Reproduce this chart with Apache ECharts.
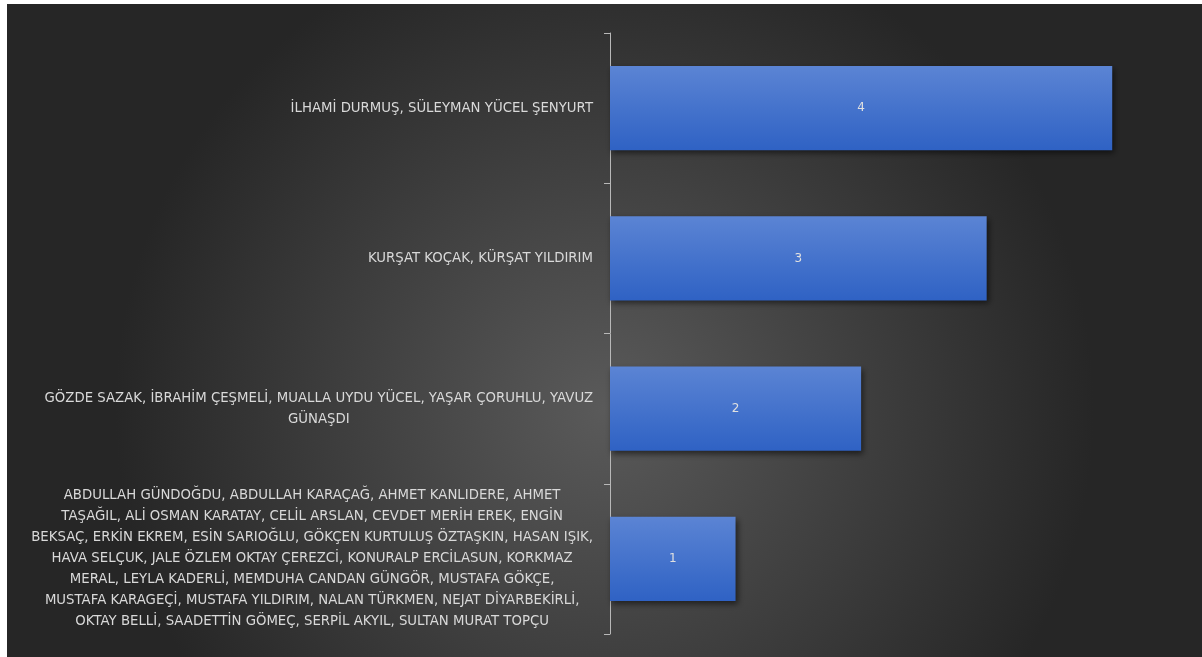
<!DOCTYPE html>
<html>
<head>
<meta charset="utf-8">
<script src="https://cdn.jsdelivr.net/npm/echarts@6/dist/echarts.min.js"></script>
<style>
html,body{margin:0;padding:0;background:#fff;}
#chart{position:absolute;left:7px;top:4px;width:1195px;height:653px;}
</style>
</head>
<body>
<div id="chart"></div>
<script>
const categories = [
  "İLHAMİ DURMUŞ, SÜLEYMAN YÜCEL ŞENYURT",
  "KURŞAT KOÇAK, KÜRŞAT YILDIRIM",
  "GÖZDE SAZAK, İBRAHİM ÇEŞMELİ, MUALLA UYDU YÜCEL, YAŞAR ÇORUHLU, YAVUZ\nGÜNAŞDI",
  "ABDULLAH GÜNDOĞDU, ABDULLAH KARAÇAĞ, AHMET KANLIDERE, AHMET\nTAŞAĞIL, ALİ OSMAN KARATAY, CELİL ARSLAN, CEVDET MERİH EREK, ENGİN\nBEKSAÇ, ERKİN EKREM, ESİN SARIOĞLU, GÖKÇEN KURTULUŞ ÖZTAŞKIN, HASAN IŞIK,\nHAVA SELÇUK, JALE ÖZLEM OKTAY ÇEREZCİ, KONURALP ERCİLASUN, KORKMAZ\nMERAL, LEYLA KADERLİ, MEMDUHA CANDAN GÜNGÖR, MUSTAFA GÖKÇE,\nMUSTAFA KARAGEÇİ, MUSTAFA YILDIRIM, NALAN TÜRKMEN, NEJAT DİYARBEKİRLİ,\nOKTAY BELLİ, SAADETTİN GÖMEÇ, SERPİL AKYIL, SULTAN MURAT TOPÇU"
];
const values = [4, 3, 2, 1];

const chart = echarts.init(document.getElementById('chart'));
chart.setOption({
  animation: false,
  backgroundColor: {
    type: 'radial', x: 0.5, y: 0.62, r: 0.75,
    colorStops: [
      {offset: 0, color: '#5a5a5a'},
      {offset: 1, color: '#262626'}
    ]
  },
  grid: {left: 603, right: 27, top: 29, bottom: 23, containLabel: false},
  xAxis: {
    type: 'value', min: 0, max: 4.5, show: false
  },
  yAxis: {
    type: 'category',
    inverse: true,
    data: categories,
    axisLine: {show: true, lineStyle: {color: '#b8b8b8', width: 1}},
    axisTick: {show: true, length: 6, lineStyle: {color: '#b8b8b8'}},
    axisLabel: {
      margin: 17,
      align: 'right',
      color: '#d9d9d9',
      fontFamily: 'DejaVu Sans',
      fontSize: 13.3,
      lineHeight: 21,
      formatter: function (v) {
        return v.split('\n').map(function (l) { return '{c|' + l + '}'; }).join('\n');
      },
      rich: {
        c: {align: 'center', color: '#d9d9d9', fontFamily: 'DejaVu Sans', fontSize: 13.3, lineHeight: 21}
      }
    },
    splitLine: {show: false}
  },
  series: [{
    type: 'bar',
    data: values,
    barCategoryGap: '44%',
    itemStyle: {
      color: {
        type: 'linear', x: 0, y: 0, x2: 0, y2: 1,
        colorStops: [
          {offset: 0, color: '#5b84d4'},
          {offset: 1, color: '#2f62c4'}
        ]
      },
      shadowColor: 'rgba(0,0,0,0.55)',
      shadowBlur: 6,
      shadowOffsetX: 2,
      shadowOffsetY: 3
    },
    label: {
      show: true,
      position: 'inside',
      color: '#e0e0e0',
      fontFamily: 'DejaVu Sans',
      fontSize: 12
    }
  }]
});
</script>
</body>
</html>
